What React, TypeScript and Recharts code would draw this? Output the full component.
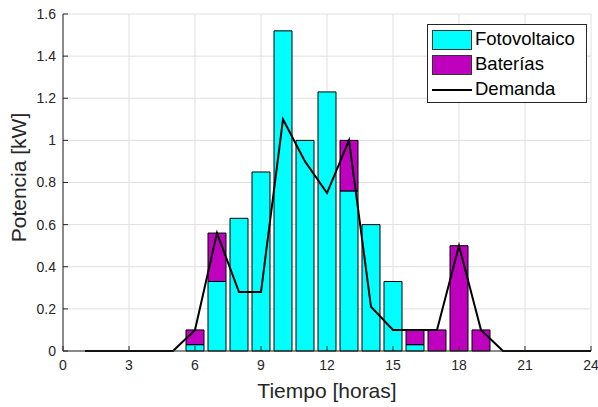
import React from 'react'
import {
  ComposedChart, Bar, Line,
  XAxis, YAxis, CartesianGrid,
} from 'recharts'

const hours = [1, 2, 3, 4, 5, 6, 7, 8, 9, 10, 11, 12, 13, 14, 15, 16, 17, 18, 19, 20, 21, 22, 23, 24]
const demanda = [0, 0, 0, 0, 0, 0.1, 0.56, 0.28, 0.28, 1.1, 0.9, 0.75, 1.0, 0.21, 0.1, 0.1, 0.1, 0.5, 0.1, 0, 0, 0, 0, 0]
const fotovoltaico = [null, null, null, null, null, 0.03, 0.33, 0.63, 0.85, 1.52, 1.0, 1.23, 0.76, 0.6, 0.33, 0.03, null, null, null, null, null, null, null, null]
const baterias = [null, null, null, null, null, 0.07, 0.23, null, null, null, null, null, 0.24, null, null, 0.07, 0.1, 0.5, 0.1, null, null, null, null, null]
const xTicks = [0, 3, 6, 9, 12, 15, 18, 21, 24]
const yTicks = [0, 0.2, 0.4, 0.6, 0.8, 1, 1.2, 1.4, 1.6]

const data = hours.map((h, i) => ({
  hour: h,
  demanda: demanda[i],
  fv: fotovoltaico[i],
  bat: baterias[i],
}))

const FONT = 'Liberation Sans, Arial, sans-serif'
const AXIS = '#262626'
const CYAN = '#00ffff'
const MAGENTA = '#bf00bf'

const tick = { fill: AXIS, fontSize: 14, fontFamily: FONT }

function LegendBox() {
  const row = { display: 'flex', alignItems: 'center', height: 25 }
  const swatch = (c: string) => ({ width: 40, height: 20, background: c, border: '1px solid #333', boxSizing: 'border-box' as const, marginRight: 3 })
  return (
    <div style={{
      position: 'absolute', left: 427, top: 24, width: 160, height: 79,
      boxSizing: 'border-box', border: '1px solid #262626', background: '#fff',
      padding: '2px 0 0 4px', fontFamily: FONT, fontSize: 18.5, color: '#000', lineHeight: 1,
    }}>
      <div style={row}><div style={swatch(CYAN)} />Fotovoltaico</div>
      <div style={row}><div style={swatch(MAGENTA)} />Baterías</div>
      <div style={row}><div style={{ width: 40, height: 2, background: '#000', marginRight: 3 }} />Demanda</div>
    </div>
  )
}

export default function App() {
  return (
    <div style={{ position: 'absolute', left: 0, top: 0, width: 598, height: 407, background: '#fff' }}>
      <ComposedChart width={598} height={407} data={data} margin={{ top: 14, right: 7, bottom: 0, left: 0 }}>
        <CartesianGrid stroke="#dfdfdf" strokeWidth={1} horizontalValues={yTicks} verticalValues={xTicks} />
        <XAxis
          dataKey="hour" type="number" domain={[0, 24]} ticks={xTicks} height={56}
          stroke={AXIS} tick={tick} tickSize={-5} tickMargin={14}
          label={{ value: 'Tiempo [horas]', position: 'center', dy: 12, fill: AXIS, fontSize: 21, fontFamily: FONT }}
        />
        <XAxis xAxisId="top" orientation="top" dataKey="hour" type="number" domain={[0, 24]} ticks={xTicks}
          height={0} stroke={AXIS} tick={false} tickSize={-5} />
        <YAxis
          type="number" domain={[0, 1.6]} ticks={yTicks} width={63}
          stroke={AXIS} tick={tick} tickSize={-5} tickMargin={12}
          label={{ value: 'Potencia [kW]', angle: -90, position: 'center', dx: -13, dy: -5, fill: AXIS, fontSize: 21, fontFamily: FONT }}
        />
        <YAxis yAxisId="right" orientation="right" type="number" domain={[0, 1.6]} ticks={yTicks}
          width={0} stroke={AXIS} tick={false} tickSize={-5} />
        <Bar dataKey="fv" stackId="s" barSize={18} fill={CYAN} stroke="#000" strokeWidth={1} isAnimationActive={false} />
        <Bar dataKey="bat" stackId="s" barSize={18} fill={MAGENTA} stroke="#000" strokeWidth={1} isAnimationActive={false} />
        <Line dataKey="demanda" type="linear" stroke="#000" strokeWidth={2} dot={false} isAnimationActive={false} />
      </ComposedChart>
      <LegendBox />
    </div>
  )
}
